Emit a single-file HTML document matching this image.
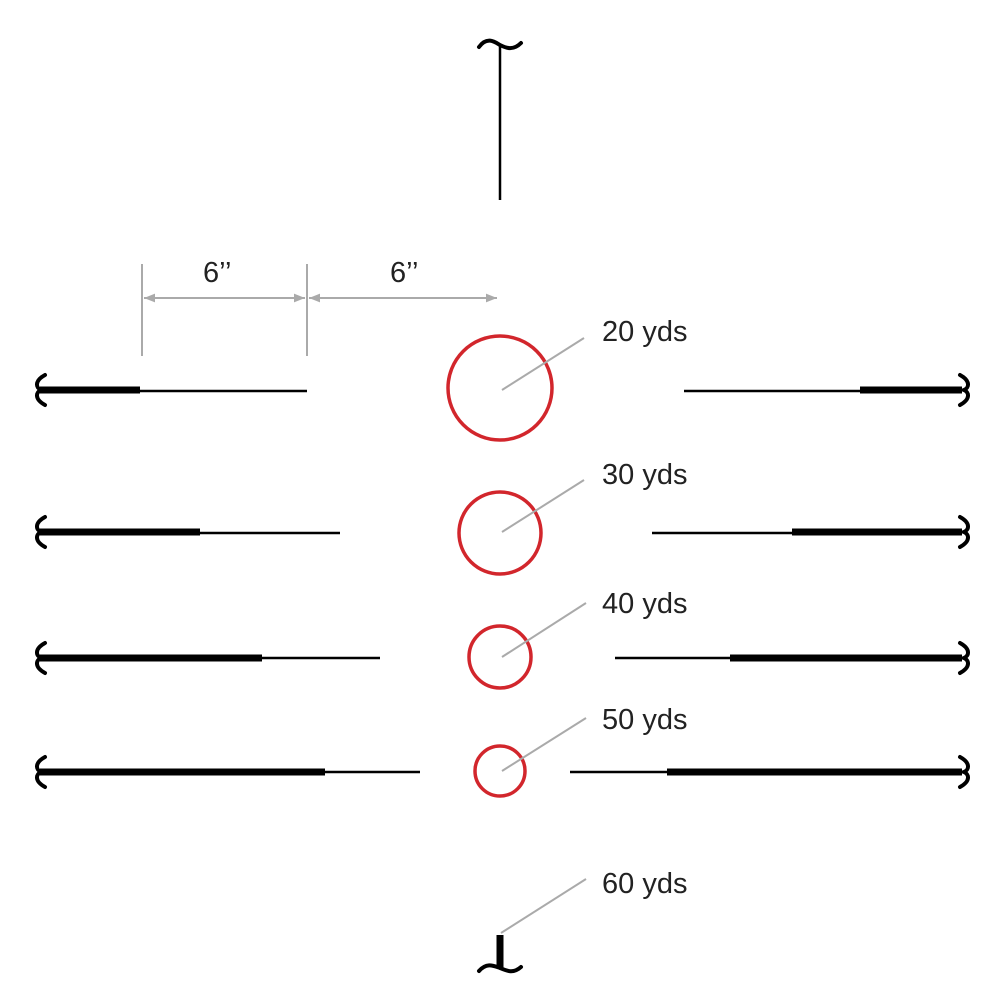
<!DOCTYPE html>
<html><head><meta charset="utf-8"><style>
html,body{margin:0;padding:0;background:#fff;}
svg{display:block;}
text{font-family:"Liberation Sans",sans-serif;font-size:29px;fill:#222;}
</style></head><body>
<svg width="1000" height="1000" viewBox="0 0 1000 1000" xmlns="http://www.w3.org/2000/svg">
<defs>
<marker id="ar" viewBox="0 0 10 10" refX="10" refY="5" markerWidth="16" markerHeight="11" orient="auto-start-reverse" markerUnits="userSpaceOnUse">
<path d="M0,1 L10,5 L0,9 z" fill="#aaa"/></marker>
</defs>
<path d="M479,47 C487,36 495,42 500,45 C506,48 513,51 521,43" fill="none" stroke="#000" stroke-width="4" stroke-linecap="round"/>
<line x1="500" y1="46" x2="500" y2="200" stroke="#000" stroke-width="2.5"/>
<line x1="500" y1="935" x2="500" y2="968" stroke="#000" stroke-width="7"/>
<path d="M479,971 C487,962 494,966 500,968 C507,971 513,974 521,967" fill="none" stroke="#000" stroke-width="4" stroke-linecap="round"/>
<g stroke="#aaa" stroke-width="2">
<line x1="142" y1="264" x2="142" y2="356"/>
<line x1="307" y1="264" x2="307" y2="356"/>
<line x1="144" y1="298" x2="305" y2="298" marker-start="url(#ar)" marker-end="url(#ar)"/>
<line x1="309" y1="298" x2="497" y2="298" marker-start="url(#ar)" marker-end="url(#ar)"/>
</g>
<text x="203" y="282">6’’</text>
<text x="390" y="282">6’’</text>
<g fill="none" stroke="#000" stroke-width="4" stroke-linecap="round">
<path id="lb" d="M45,375 C34,381 36,388 41,390 C36,392 34,399 45,405"/>
<use href="#lb" y="142"/><use href="#lb" y="268"/><use href="#lb" y="382"/>
<path id="rb" d="M960,375 C971,381 969,388 964,390 C969,392 971,399 960,405"/>
<use href="#rb" y="142"/><use href="#rb" y="268"/><use href="#rb" y="382"/>
</g>
<g stroke="#000">
<line x1="40" y1="390" x2="140" y2="390" stroke-width="7"/><line x1="140" y1="391" x2="307" y2="391" stroke-width="2.5"/>
<line x1="684" y1="391" x2="860" y2="391" stroke-width="2.5"/><line x1="860" y1="390" x2="962" y2="390" stroke-width="7"/>
<line x1="40" y1="532" x2="200" y2="532" stroke-width="7"/><line x1="200" y1="533" x2="340" y2="533" stroke-width="2.5"/>
<line x1="652" y1="533" x2="792" y2="533" stroke-width="2.5"/><line x1="792" y1="532" x2="962" y2="532" stroke-width="7"/>
<line x1="40" y1="658" x2="262" y2="658" stroke-width="7"/><line x1="262" y1="658" x2="380" y2="658" stroke-width="2.5"/>
<line x1="615" y1="658" x2="730" y2="658" stroke-width="2.5"/><line x1="730" y1="658" x2="962" y2="658" stroke-width="7"/>
<line x1="40" y1="772" x2="325" y2="772" stroke-width="7"/><line x1="325" y1="772" x2="420" y2="772" stroke-width="2.5"/>
<line x1="570" y1="772" x2="667" y2="772" stroke-width="2.5"/><line x1="667" y1="772" x2="962" y2="772" stroke-width="7"/>
</g>
<g fill="none" stroke="#d2262c" stroke-width="3.5">
<circle cx="500" cy="388" r="52"/>
<circle cx="500" cy="533" r="41"/>
<circle cx="500" cy="657" r="31"/>
<circle cx="500" cy="771" r="25"/>
</g>
<g stroke="#aaa" stroke-width="2">
<line x1="502" y1="390" x2="584" y2="338"/>
<line x1="502" y1="532" x2="584" y2="480"/>
<line x1="502" y1="657" x2="586" y2="603"/>
<line x1="502" y1="771" x2="586" y2="718"/>
<line x1="501" y1="933" x2="586" y2="879"/>
</g>
<text x="602" y="341">20 yds</text>
<text x="602" y="484">30 yds</text>
<text x="602" y="613">40 yds</text>
<text x="602" y="729">50 yds</text>
<text x="602" y="893">60 yds</text>
</svg>
</body></html>
